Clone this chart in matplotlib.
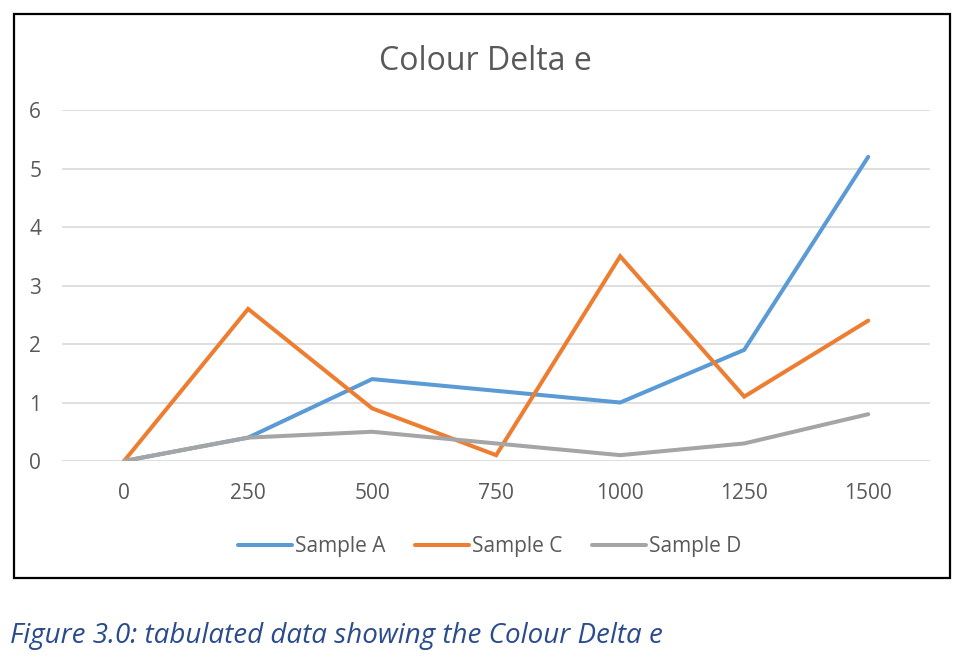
import matplotlib.pyplot as plt
from matplotlib.patches import Rectangle

categories = ["0", "250", "500", "750", "1000", "1250", "1500"]
sample_a = [0, 0.4, 1.4, 1.2, 1.0, 1.9, 5.2]
sample_c = [0, 2.6, 0.9, 0.1, 3.5, 1.1, 2.4]
sample_d = [0, 0.4, 0.5, 0.3, 0.1, 0.3, 0.8]
series_names = ["Sample A", "Sample C", "Sample D"]
colors = ["#5B9BD5", "#ED7D31", "#A5A5A5"]

plt.rcParams['font.family'] = ['Open Sans', 'DejaVu Sans']
txt = "#595959"

fig = plt.figure(figsize=(9.7, 6.6), dpi=100)
ax = fig.add_axes([0.064, 0.3015, 0.895, 0.5318])

x = range(len(categories))
for vals, name, c in zip([sample_a, sample_c, sample_d], series_names, colors):
	ax.plot(x, vals, color=c, lw=2.9, label=name, solid_capstyle='round', solid_joinstyle='miter')

ax.set_xlim(-0.5, len(categories) - 0.5)
ax.set_ylim(0, 6)
ax.set_yticks(range(7))
ax.set_xticks(list(x))
ax.set_xticklabels(categories)
ax.grid(axis='y', color="#D9D9D9", lw=1.2)
ax.set_axisbelow(True)
for s in ax.spines.values():
	s.set_visible(False)
ax.tick_params(length=0, colors=txt, labelsize=15, pad=16)
ax.tick_params(axis='y', pad=15)

fig.text(0.5, 0.907, "Colour Delta e", ha='center', va='center', fontsize=23, color=txt)

leg = fig.legend(loc='center', bbox_to_anchor=(0.505, 0.172), ncol=3, frameon=False,
	fontsize=15, handlelength=2.6, handletextpad=0.15, columnspacing=1.4, labelcolor=txt)

# outer chart border
fig.patches.append(Rectangle((14 / 970, 1 - 578 / 660), 936 / 970, 564 / 660,
	transform=fig.transFigure, fill=False, edgecolor='black', lw=1.6))

fig.text(10 / 970, 1 - 636 / 660, "Figure 3.0: tabulated data showing the Colour Delta e",
	ha='left', va='center', fontsize=20, style='italic', color="#2B4C8C")

plt.savefig('out.png', dpi=100)
